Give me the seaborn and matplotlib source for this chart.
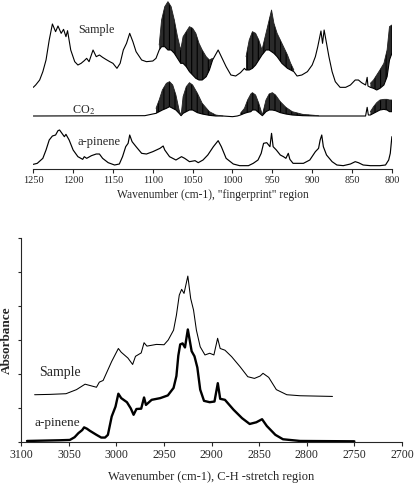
import numpy as np
import matplotlib
matplotlib.use("Agg")
import matplotlib.pyplot as plt
import seaborn as sns

# =========================
# DATA
# =========================
# --- fingerprint region (top panel), offsets already included ---
fp_sample_wn = [1250, 1247, 1242, 1238, 1234, 1230, 1226, 1222, 1219, 1215, 1212, 1209, 1207, 1203,
                1198, 1194, 1190, 1186, 1183, 1180, 1175, 1171, 1167, 1163, 1159, 1154, 1150, 1145,
                1141, 1137, 1133, 1129, 1125, 1121, 1114, 1108, 1100, 1096,
                1092, 1089, 1085, 1081, 1077, 1073, 1069, 1065, 1062, 1058, 1054, 1050, 1046, 1042,
                1038, 1033, 1029, 1025,
                1018, 1012, 1008, 1002, 996, 990, 985,
                983, 979, 975, 971, 967, 963, 958, 954, 951, 948, 944, 938, 931, 927, 923,
                919, 913, 906, 900, 896, 893, 889, 887, 885, 882, 879, 875, 871, 865, 858, 852,
                846, 842, 838, 833, 831, 830,
                827, 823, 819, 815, 810, 806, 803, 800]
fp_sample_ab = [2.43, 2.50, 2.65, 2.90, 3.25, 3.85, 4.33, 4.10, 4.27, 4.05, 4.17, 3.95, 4.13, 3.55,
                3.20, 3.10, 3.15, 3.23, 3.30, 3.20, 3.55, 3.35, 3.40, 3.33, 3.27, 3.20, 3.15, 3.00,
                3.15, 3.55, 3.75, 4.05, 3.80, 3.50, 3.25, 3.20, 3.22, 3.30,
                3.55, 3.65, 3.65, 3.55, 3.55, 3.45, 3.30, 3.15, 3.15, 3.05, 2.90, 2.80, 2.70, 2.65,
                2.65, 2.75, 2.95, 3.25,
                3.55, 3.25, 3.05, 2.80, 2.77, 2.87, 3.00,
                2.95, 2.95, 3.00, 3.10, 3.25, 3.40, 3.55, 3.55, 3.50, 3.45, 3.35, 3.15, 3.00, 2.95, 2.90,
                2.77, 2.80, 2.90, 3.10, 3.35, 3.65, 4.12, 3.75, 4.15, 3.75, 3.35, 2.90, 2.60, 2.43, 2.43, 2.50,
                2.65, 2.65, 2.57, 2.50, 2.73, 2.47,
                2.43, 2.40, 2.35, 2.40, 2.50, 2.75, 3.25, 3.45]

# upper envelopes of the dense CO2 rotational lines in the sample trace
fp_sample_band_wn = [
    [1092, 1089, 1085, 1081, 1077, 1073, 1069, 1065, 1062, 1058, 1054, 1050, 1046, 1042, 1038, 1033, 1029, 1025],
    [983, 979, 975, 971, 967, 963, 958, 954, 951, 948, 944, 938, 931, 927, 923],
    [827, 823, 819, 815, 810, 806, 803, 800],
]
fp_sample_band_hi = [
    [3.70, 4.45, 4.85, 5.00, 4.85, 4.45, 3.95, 3.55, 3.95, 4.10, 4.25, 4.20, 4.05, 3.75, 3.55, 3.35, 3.25, 3.30],
    [3.35, 3.85, 4.10, 4.05, 3.85, 3.55, 4.05, 4.45, 4.75, 4.35, 4.05, 3.75, 3.40, 3.15, 2.95],
    [2.55, 2.65, 2.80, 2.95, 3.15, 3.55, 4.25, 4.30],
]

fp_co2_wn = [1250, 1110, 1102,
             1096, 1092, 1088, 1083, 1079, 1075, 1071, 1067, 1064.5, 1062, 1058, 1054, 1050, 1044, 1038,
             1029, 1021, 1012,
             1000, 994,
             990, 985, 981, 977, 975, 971, 967, 962.5, 958, 954, 950, 946, 940, 933, 925, 912, 892,
             865, 833, 831, 829.5,
             827, 823, 819, 815, 810, 806, 803, 800]
fp_co2_ab = [1.57, 1.58, 1.62,
             1.65, 1.70, 1.75, 1.80, 1.85, 1.80, 1.75, 1.65, 1.58, 1.65, 1.70, 1.75, 1.75, 1.67, 1.63,
             1.59, 1.57, 1.57,
             1.55, 1.57,
             1.60, 1.65, 1.68, 1.70, 1.75, 1.75, 1.67, 1.58, 1.70, 1.75, 1.75, 1.73, 1.67, 1.63, 1.60, 1.58, 1.57,
             1.57, 1.57, 1.83, 1.60,
             1.60, 1.65, 1.70, 1.75, 1.77, 1.75, 1.70, 1.70]
fp_co2_band_wn = [
    [1096, 1092, 1088, 1083, 1079, 1075, 1071, 1067, 1064.5, 1062, 1058, 1054, 1050, 1044, 1038, 1029, 1021, 1012],
    [990, 985, 981, 977, 975, 971, 967, 962.5, 958, 954, 950, 946, 940, 933, 925, 912, 892],
    [827, 823, 819, 815, 810, 806, 803, 800],
]
fp_co2_band_hi = [
    [1.80, 2.05, 2.35, 2.55, 2.60, 2.50, 2.20, 1.75, 1.58, 2.15, 2.45, 2.57, 2.50, 2.25, 1.95, 1.70, 1.60, 1.57],
    [1.65, 1.80, 2.05, 2.23, 2.27, 2.20, 1.95, 1.60, 2.05, 2.23, 2.27, 2.20, 2.00, 1.83, 1.70, 1.62, 1.58],
    [1.70, 1.85, 1.97, 2.05, 2.07, 2.07, 2.05, 2.05],
]

fp_pinene_wn = [1250, 1245, 1238, 1234, 1230, 1226, 1222, 1219, 1217, 1214, 1211, 1209, 1205, 1200,
                1194, 1188, 1186, 1183, 1177, 1171, 1167, 1163, 1156, 1148, 1142, 1138, 1134, 1131,
                1129, 1126, 1121, 1114, 1108, 1100, 1091, 1087, 1085, 1079, 1071, 1064, 1060, 1054,
                1047, 1043, 1037, 1031, 1024, 1018, 1014, 1008, 999, 991, 980, 974, 968, 964, 961,
                957, 953, 951, 949, 945, 940, 936, 933, 930, 928, 924, 917, 911, 903, 896, 892, 890,
                888, 886, 882, 875, 869, 861, 852, 846, 842, 836, 827, 815, 808, 804, 802, 800]
fp_pinene_ab = [0.12, 0.15, 0.30, 0.55, 0.85, 0.97, 1.00, 1.13, 1.15, 1.05, 0.95, 1.02, 0.85, 0.55,
                0.35, 0.27, 0.35, 0.30, 0.38, 0.43, 0.43, 0.30, 0.17, 0.10, 0.13, 0.35, 0.65, 0.75,
                1.00, 0.80, 0.65, 0.45, 0.43, 0.50, 0.60, 0.67, 0.55, 0.35, 0.25, 0.35, 0.30, 0.20,
                0.23, 0.17, 0.25, 0.40, 0.65, 0.83, 0.65, 0.30, 0.13, 0.08, 0.08, 0.15, 0.25, 0.45, 0.75,
                0.77, 0.65, 1.05, 0.65, 0.55, 0.40, 0.35, 0.30, 0.45, 0.27, 0.15, 0.15, 0.15, 0.25, 0.50, 0.60, 0.85,
                1.00, 0.65, 0.40, 0.20, 0.10, 0.08, 0.13, 0.20, 0.17, 0.10, 0.08, 0.08, 0.10, 0.25, 0.45, 0.95]

# --- C-H stretch region (bottom panel) ---
ch_sample_wn = [3086, 3070, 3053, 3042, 3033, 3021, 3018, 3014, 3005, 2998, 2995, 2988, 2983, 2980,
                2974, 2971, 2968, 2958, 2950, 2945.6, 2940, 2937, 2934, 2931.5, 2929, 2925, 2922,
                2919, 2916, 2912, 2907, 2902, 2897.6, 2893.7, 2891, 2886, 2879, 2870, 2862, 2855,
                2849, 2846, 2840, 2832, 2821, 2807, 2773]
ch_sample_ab = [1.40, 1.41, 1.43, 1.55, 1.71, 1.62, 1.77, 1.82, 2.38, 2.76, 2.65, 2.48, 2.29, 2.53,
                2.63, 2.93, 2.83, 2.88, 2.87, 3.01, 3.30, 3.74, 4.33, 4.50, 4.38, 4.89, 4.23,
                3.89, 3.30, 2.81, 2.57, 2.62, 2.57, 3.06, 2.76, 2.71, 2.52, 2.22, 1.93, 1.88,
                1.95, 2.03, 1.91, 1.55, 1.40, 1.37, 1.35]

ch_pinene_wn = [3094, 3060, 3049, 3044, 3040, 3036, 3034, 3031, 3028, 3021, 3016, 3012, 3009, 3005,
                3001, 2998, 2995, 2989, 2985, 2982, 2979, 2974, 2971, 2969, 2963, 2954, 2946, 2940,
                2937, 2935, 2933, 2930.5, 2928, 2925, 2921, 2918, 2915, 2912, 2908, 2902, 2897,
                2893.5, 2891, 2886, 2877, 2868, 2860, 2853, 2847, 2842, 2833, 2825, 2807, 2750]
ch_pinene_ab = [0.04, 0.06, 0.07, 0.15, 0.27, 0.36, 0.44, 0.40, 0.34, 0.22, 0.14, 0.14, 0.22, 0.76,
                1.05, 1.43, 1.30, 1.18, 1.00, 0.81, 0.98, 0.99, 1.32, 1.10, 1.25, 1.30, 1.38, 1.60,
                1.95, 2.55, 2.88, 2.91, 2.79, 3.32, 2.68, 2.53, 2.20, 1.55, 1.22, 1.18, 1.20,
                1.74, 1.28, 1.25, 0.96, 0.71, 0.54, 0.59, 0.68, 0.48, 0.22, 0.09, 0.04, 0.03]

fp_ticks = list(range(1250, 799, -50))
ch_ticks = list(range(3100, 2699, -50))


# =========================
# STYLE
# =========================
sns.set_style("ticks")
plt.rcParams["font.family"] = ["Liberation Serif", "DejaVu Serif"]
plt.rcParams["mathtext.fontset"] = "stix"
plt.rcParams["hatch.linewidth"] = 0.8

fig = plt.figure(figsize=(4.16, 4.88), dpi=100)
ax1 = fig.add_axes([0.080, 0.653, 0.862, 0.347])
ax2 = fig.add_axes([0.0512, 0.0936, 0.915, 0.418])


def draw_trace(ax, wn, ab, lw):
    sns.lineplot(x=wn, y=ab, ax=ax, color="black", lw=lw, sort=False, estimator=None)


def draw_bands(ax, wn, ab, band_wn, band_hi):
    # dense rotational lines: dark hatched fill between lower and upper envelope
    wn = np.asarray(wn, dtype=float)
    ab = np.asarray(ab, dtype=float)
    for bw, bh in zip(band_wn, band_hi):
        mask = np.isin(wn, bw)
        lo = ab[mask]
        ax.fill_between(bw, lo, bh, facecolor="#2a2a2a", edgecolor="black",
                        hatch="|||", lw=0)
        ax.plot(bw, bh, color="#222222", lw=0.6)


# =========================
# TOP: fingerprint region
# =========================
draw_trace(ax1, fp_sample_wn, fp_sample_ab, 0.8)
draw_bands(ax1, fp_sample_wn, fp_sample_ab, fp_sample_band_wn, fp_sample_band_hi)
draw_trace(ax1, fp_co2_wn, fp_co2_ab, 0.8)
draw_bands(ax1, fp_co2_wn, fp_co2_ab, fp_co2_band_wn, fp_co2_band_hi)
draw_trace(ax1, fp_pinene_wn, fp_pinene_ab, 0.85)

ax1.set_xlim(1250, 800)
ax1.set_ylim(-0.03, 5.05)
ax1.set_xticks(fp_ticks)
ax1.set_yticks([])
ax1.set_ylabel("")
for s in ["left", "right", "top"]:
    ax1.spines[s].set_visible(False)
ax1.spines["bottom"].set_linewidth(0.8)
ax1.tick_params(axis="x", direction="out", length=3, width=0.8, labelsize=7.5, pad=2)
ax1.set_xlabel('Wavenumber (cm-1), "fingerprint" region', fontsize=8.3, labelpad=3)

ax1.text(1171, 4.15, "Sample", fontsize=8.7, ha="center", va="center")
ax1.text(1187, 1.75, "CO$_2$", fontsize=8.7, ha="center", va="center")
ax1.text(1167, 0.79, "a-pinene", fontsize=9, ha="center", va="center")

# =========================
# BOTTOM: C-H stretch region
# =========================
draw_trace(ax2, ch_sample_wn, ch_sample_ab, 0.75)
draw_trace(ax2, ch_pinene_wn, ch_pinene_ab, 1.7)

ax2.set_xlim(3100, 2700)
ax2.set_ylim(0, 6)
ax2.set_xticks(ch_ticks)
ax2.set_yticks(range(0, 7))
ax2.set_yticklabels([])
for s in ["right", "top"]:
    ax2.spines[s].set_visible(False)
ax2.spines["bottom"].set_linewidth(0.8)
ax2.spines["left"].set_linewidth(0.8)
ax2.tick_params(axis="x", direction="out", length=3, width=0.8, labelsize=8.5, pad=2)
ax2.tick_params(axis="y", direction="out", length=2.5, width=0.8)
ax2.set_xlabel("Wavenumber (cm-1), C-H -stretch region", fontsize=9, labelpad=7)
ax2.set_ylabel("Absorbance", fontsize=9.5, fontweight="bold")
ax2.yaxis.set_label_coords(-0.022, 0.5)

ax2.text(3059, 2.04, "Sample", fontsize=10, ha="center", va="center")
ax2.text(3062, 0.57, "a-pinene", fontsize=9.5, ha="center", va="center")

fig.savefig("out.png", dpi=100)
plt.close(fig)
